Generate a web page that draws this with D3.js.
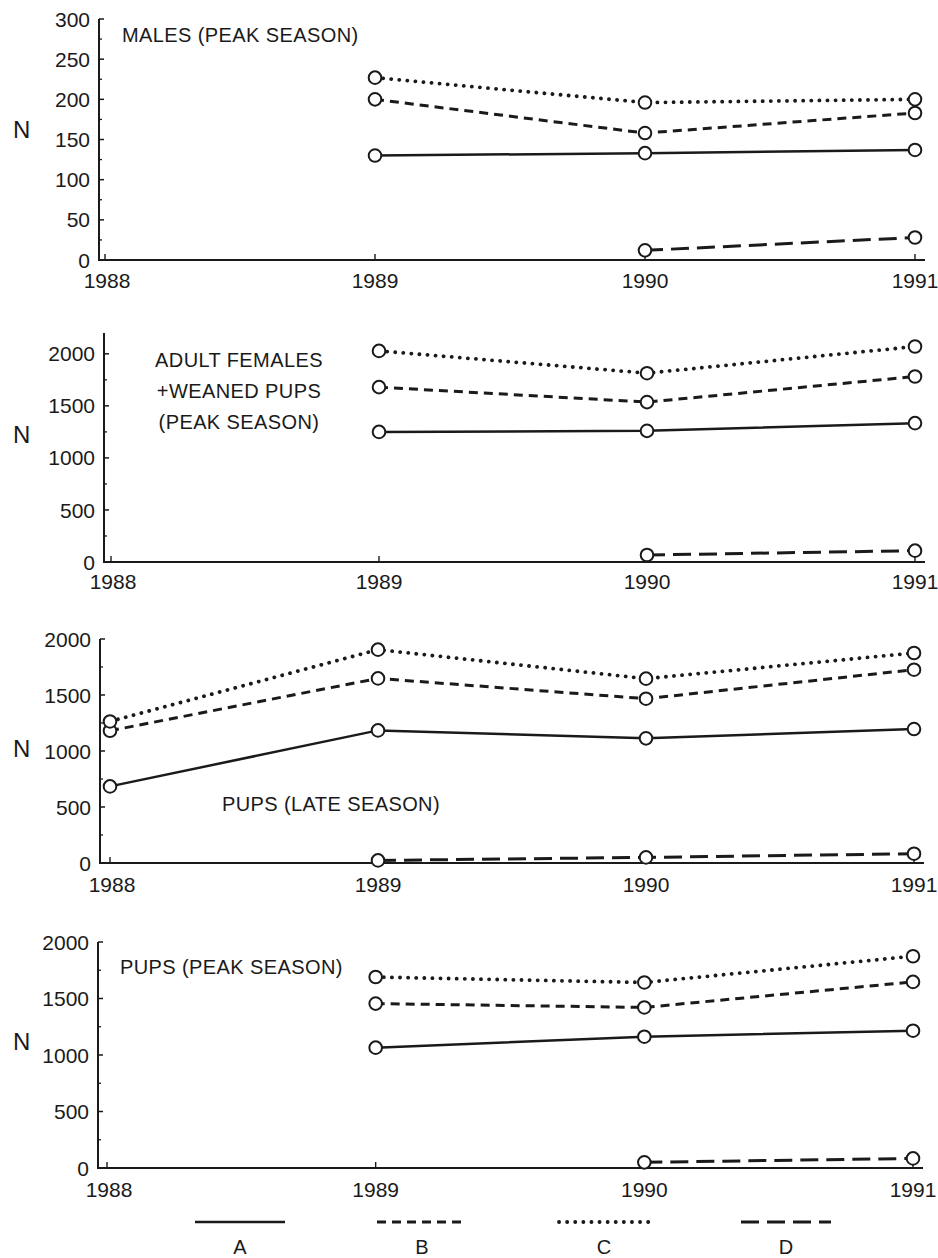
<!DOCTYPE html>
<html>
<head>
<meta charset="utf-8">
<script src="https://cdn.jsdelivr.net/npm/d3@7"></script>
<style>
  html, body { margin: 0; padding: 0; background: #ffffff; }
  svg { display: block; }
  text { font-family: "Liberation Sans", Arial, Helvetica, sans-serif; fill: #1a1a1a; }
</style>
</head>
<body>
<svg id="chart" width="938" height="1258"></svg>
<script>
// ---------------- DATA ----------------
const years = [1988, 1989, 1990, 1991];
const seriesNames = ["A", "B", "C", "D"];

// Panel 1: MALES (PEAK SEASON)
const males_A = [null, 130, 133, 137];
const males_B = [null, 200, 158, 183];
const males_C = [null, 227, 196, 200];
const males_D = [null, null, 12, 28];
const males_ticks = [0, 50, 100, 150, 200, 250, 300];

// Panel 2: ADULT FEMALES + WEANED PUPS (PEAK SEASON)
const females_A = [null, 1250, 1260, 1334];
const females_B = [null, 1680, 1536, 1782];
const females_C = [null, 2028, 1814, 2070];
const females_D = [null, null, 67, 109];
const females_ticks = [0, 500, 1000, 1500, 2000];

// Panel 3: PUPS (LATE SEASON)
const pupsLate_A = [684, 1184, 1113, 1196];
const pupsLate_B = [1181, 1648, 1467, 1726];
const pupsLate_C = [1264, 1905, 1646, 1875];
const pupsLate_D = [null, 23, 50, 83];
const pupsLate_ticks = [0, 500, 1000, 1500, 2000];

// Panel 4: PUPS (PEAK SEASON)
const pupsPeak_A = [null, 1065, 1162, 1215];
const pupsPeak_B = [null, 1455, 1421, 1647];
const pupsPeak_C = [null, 1690, 1642, 1874];
const pupsPeak_D = [null, null, 50, 85];
const pupsPeak_ticks = [0, 500, 1000, 1500, 2000];

// ---------------- LAYOUT / STYLE ----------------
const panels = [
  { title: ["MALES (PEAK SEASON)"], titleX: 122, titleY: 42, anchor: "start",
    series: [males_A, males_B, males_C, males_D], ticks: males_ticks, minor: 25,
    yMax: 300, axisX: 99, yTop: 19, yBottom: 260, x88: 105, x91: 915, xEnd: 925,
    labelY: 288, nY: 138 },
  { title: ["ADULT FEMALES", "+WEANED PUPS", "(PEAK SEASON)"], titleX: 239, titleY: 367, anchor: "middle",
    series: [females_A, females_B, females_C, females_D], ticks: females_ticks, minor: 250,
    yMax: 2200, axisX: 104, yTop: 333, yBottom: 562, x88: 111, x91: 915, xEnd: 925,
    labelY: 589, nY: 443 },
  { title: ["PUPS (LATE SEASON)"], titleX: 222, titleY: 811, anchor: "start",
    series: [pupsLate_A, pupsLate_B, pupsLate_C, pupsLate_D], ticks: pupsLate_ticks, minor: 250,
    yMax: 2000, axisX: 100, yTop: 639, yBottom: 863, x88: 110, x91: 914, xEnd: 924,
    labelY: 892, nY: 757 },
  { title: ["PUPS (PEAK SEASON)"], titleX: 120, titleY: 974, anchor: "start",
    series: [pupsPeak_A, pupsPeak_B, pupsPeak_C, pupsPeak_D], ticks: pupsPeak_ticks, minor: 250,
    yMax: 2000, axisX: 98, yTop: 942, yBottom: 1168, x88: 107, x91: 913, xEnd: 923,
    labelY: 1197, nY: 1050 }
];

const ink = "#1a1a1a";
const styles = {
  A: { dash: null, width: 2.5, cap: "butt" },
  B: { dash: "9,6", width: 3, cap: "butt" },
  C: { dash: "0.1,8", width: 3.8, cap: "round" },
  D: { dash: "18,8", width: 3, cap: "butt" }
};

const svg = d3.select("#chart");

panels.forEach(p => {
  const g = svg.append("g");
  const x = d3.scaleLinear().domain([years[0], years[years.length - 1]]).range([p.x88, p.x91]);
  const y = d3.scaleLinear().domain([0, p.yMax]).range([p.yBottom, p.yTop]);

  // y axis line
  g.append("line").attr("x1", p.axisX).attr("x2", p.axisX)
    .attr("y1", p.yTop).attr("y2", p.yBottom + 1)
    .attr("stroke", ink).attr("stroke-width", 2);
  // x axis line
  g.append("line").attr("x1", p.axisX - 1).attr("x2", p.xEnd)
    .attr("y1", p.yBottom).attr("y2", p.yBottom)
    .attr("stroke", ink).attr("stroke-width", 2);

  // minor y ticks
  const minorTicks = d3.range(0, p.yMax + 0.001, p.minor).filter(v => !p.ticks.includes(v));
  g.selectAll(".minor").data(minorTicks).enter().append("line")
    .attr("x1", p.axisX).attr("x2", p.axisX + 3)
    .attr("y1", d => y(d)).attr("y2", d => y(d))
    .attr("stroke", ink).attr("stroke-width", 1.3);
  // major y ticks
  g.selectAll(".major").data(p.ticks).enter().append("line")
    .attr("x1", p.axisX).attr("x2", p.axisX + 5)
    .attr("y1", d => y(d)).attr("y2", d => y(d))
    .attr("stroke", ink).attr("stroke-width", 1.5);
  // y tick labels
  g.selectAll(".ylab").data(p.ticks).enter().append("text")
    .attr("x", p.axisX - 9).attr("y", d => y(d)).attr("dy", "0.36em")
    .attr("text-anchor", "end").attr("font-size", 21)
    .text(d => d);

  // x ticks
  g.selectAll(".xt").data(years).enter().append("line")
    .attr("x1", d => x(d)).attr("x2", d => x(d))
    .attr("y1", p.yBottom).attr("y2", p.yBottom - 6)
    .attr("stroke", ink).attr("stroke-width", 1.4);
  g.selectAll(".xlab").data(years).enter().append("text")
    .attr("x", d => x(d) + (d === 1988 ? 2 : 0)).attr("y", p.labelY)
    .attr("text-anchor", "middle").attr("font-size", 21)
    .text(d => d);

  // N label
  g.append("text").attr("x", 13).attr("y", p.nY).attr("font-size", 24).text("N");

  // title
  const t = g.append("text").attr("text-anchor", p.anchor).attr("font-size", 20)
    .attr("letter-spacing", 0.4);
  p.title.forEach((line, i) => {
    t.append("tspan").attr("x", p.titleX).attr("y", p.titleY + i * 31).text(line);
  });

  // series
  const lineGen = d3.line()
    .defined(d => d.v !== null)
    .x(d => x(d.year)).y(d => y(d.v));

  p.series.forEach((vals, si) => {
    const name = seriesNames[si];
    const st = styles[name];
    const pts = years.map((yr, i) => ({ year: yr, v: vals[i] }));
    g.append("path").datum(pts)
      .attr("d", lineGen)
      .attr("fill", "none").attr("stroke", ink)
      .attr("stroke-width", st.width)
      .attr("stroke-linecap", st.cap)
      .attr("stroke-dasharray", st.dash);
  });
  p.series.forEach((vals) => {
    const pts = years.map((yr, i) => ({ year: yr, v: vals[i] })).filter(d => d.v !== null);
    g.selectAll(null).data(pts).enter().append("circle")
      .attr("cx", d => x(d.year)).attr("cy", d => y(d.v)).attr("r", 6.3)
      .attr("fill", "#ffffff").attr("stroke", ink).attr("stroke-width", 2);
  });
});

// ---------------- LEGEND ----------------
const legendX = d3.scalePoint().domain(seriesNames).range([240, 786]);
const legendHalf = 45;
const leg = svg.append("g");
seriesNames.forEach(name => {
  const st = styles[name];
  const cx = legendX(name);
  leg.append("line")
    .attr("x1", cx - legendHalf).attr("x2", cx + legendHalf)
    .attr("y1", 1222).attr("y2", 1222)
    .attr("stroke", ink).attr("stroke-width", st.width)
    .attr("stroke-linecap", st.cap)
    .attr("stroke-dasharray", st.dash);
  leg.append("text").attr("x", cx).attr("y", 1254)
    .attr("text-anchor", "middle").attr("font-size", 20).text(name);
});
</script>
</body>
</html>
